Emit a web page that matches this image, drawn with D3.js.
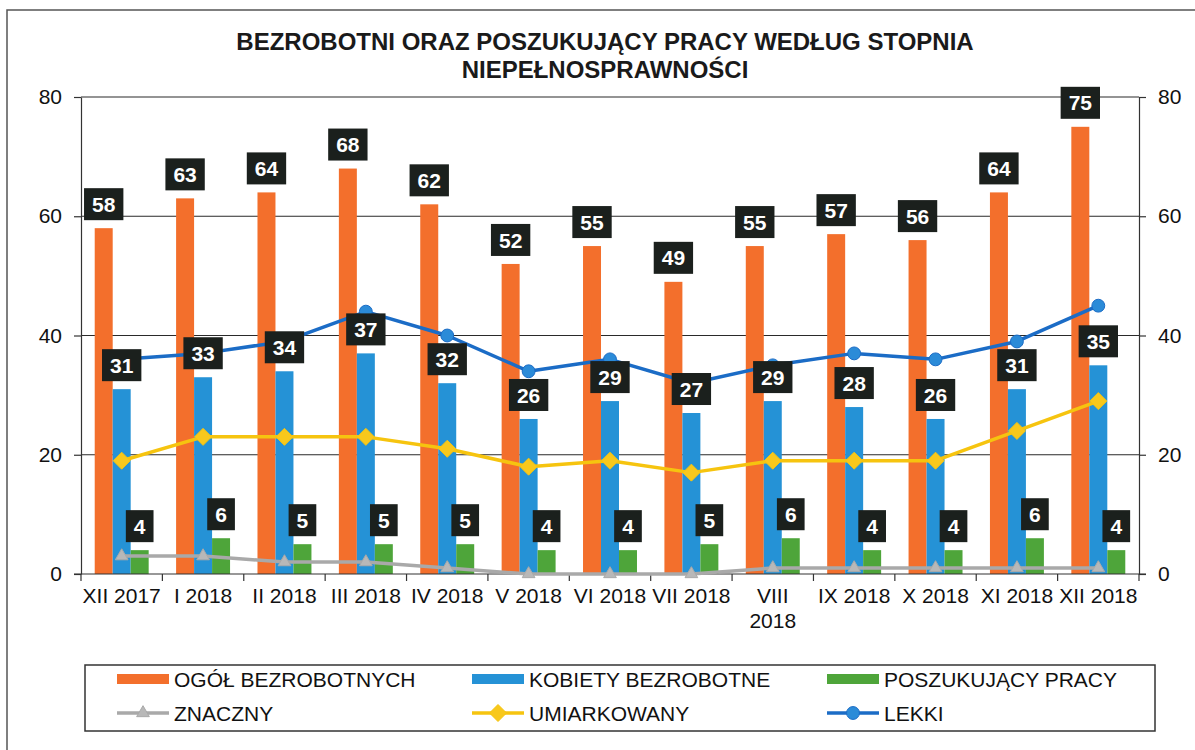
<!DOCTYPE html>
<html>
<head>
<meta charset="utf-8">
<script src="https://cdn.jsdelivr.net/npm/d3@7"></script>
<style>
  body { margin: 0; background: #fff; }
  text { font-family: "Liberation Sans", Arial, sans-serif; }
</style>
</head>
<body>
<svg id="chart"></svg>
<script>
// categories (months)
const months = ["XII 2017", "I 2018", "II 2018", "III 2018", "IV 2018", "V 2018", "VI 2018",
  "VII 2018", "VIII 2018", "IX 2018", "X 2018", "XI 2018", "XII 2018"];

// bar series
const ogolBezrobotnych = [58, 63, 64, 68, 62, 52, 55, 49, 55, 57, 56, 64, 75];
const kobietyBezrobotne = [31, 33, 34, 37, 32, 26, 29, 27, 29, 28, 26, 31, 35];
const poszukujacyPracy = [4, 6, 5, 5, 5, 4, 4, 5, 6, 4, 4, 6, 4];

// line series (secondary axis)
const znaczny = [3, 3, 2, 2, 1, 0, 0, 0, 1, 1, 1, 1, 1];
const umiarkowany = [19, 23, 23, 23, 21, 18, 19, 17, 19, 19, 19, 24, 29];
const lekki = [36, 37, 39, 44, 40, 34, 36, 32, 35, 37, 36, 39, 45];

const yTicks = [0, 20, 40, 60, 80];
const titleLines = ["BEZROBOTNI ORAZ POSZUKUJĄCY PRACY WEDŁUG STOPNIA", "NIEPEŁNOSPRAWNOŚCI"];

// chart dimensions
const width = 1195;
const height = 750;
const plotLeft = 81;
const plotRight = 1139;
const plotTop = 97;
const plotBottom = 574;

const barSeries = [
  { name: "OGÓŁ BEZROBOTNYCH", values: ogolBezrobotnych, color: "#f36f2c" },
  { name: "KOBIETY BEZROBOTNE", values: kobietyBezrobotne, color: "#2592d6" },
  { name: "POSZUKUJĄCY PRACY", values: poszukujacyPracy, color: "#4ea53a" }
];
const lineSeries = [
  { name: "ZNACZNY", values: znaczny, color: "#a9a9a9", fill: "#b8b8b8", marker: "triangle" },
  { name: "UMIARKOWANY", values: umiarkowany, color: "#f6c40f", fill: "#f8c81c", marker: "diamond" },
  { name: "LEKKI", values: lekki, color: "#1b6cc6", fill: "#2b8bd8", marker: "circle" }
];

const svg = d3.select("#chart")
  .attr("width", width)
  .attr("height", height);

// outer frame
svg.append("rect")
  .attr("x", 7).attr("y", 10)
  .attr("width", width + 20).attr("height", height + 20)
  .attr("fill", "none").attr("stroke", "#555").attr("stroke-width", 1.5);

// scales
const xCat = d3.scaleBand().domain(months).range([plotLeft, plotRight]).padding(0);
const x0 = d3.scaleBand().domain(months).range([plotLeft, plotRight])
  .paddingInner(0.337).paddingOuter(0.1685);
const x1 = d3.scaleBand().domain(barSeries.map(d => d.name)).range([0, x0.bandwidth()]);
const y = d3.scaleLinear().domain([0, 80]).range([plotBottom, plotTop]);
const y2 = d3.scaleLinear().domain([0, 80]).range([plotBottom, plotTop]);

// title
svg.append("g").selectAll("text")
  .data(titleLines)
  .join("text")
  .attr("x", 605)
  .attr("y", (d, i) => 50 + i * 28)
  .attr("text-anchor", "middle")
  .attr("font-size", 24)
  .attr("font-weight", "bold")
  .attr("fill", "#1a1a1a")
  .text(d => d);

// gridlines
svg.append("g")
  .selectAll("line")
  .data(yTicks.filter(t => t > 0))
  .join("line")
  .attr("x1", plotLeft).attr("x2", plotRight)
  .attr("y1", d => y(d)).attr("y2", d => y(d))
  .attr("stroke", "#2a2a2a").attr("stroke-width", 1.2);

// left axis
const leftAxis = svg.append("g")
  .attr("transform", `translate(${plotLeft},0)`)
  .call(d3.axisLeft(y).tickValues(yTicks).tickSize(7).tickSizeOuter(0).tickPadding(12));

// right axis
const rightAxis = svg.append("g")
  .attr("transform", `translate(${plotRight},0)`)
  .call(d3.axisRight(y2).tickValues(yTicks).tickSize(7).tickSizeOuter(0).tickPadding(12));

[leftAxis, rightAxis].forEach(a => {
  a.selectAll("path, line").attr("stroke", "#333").attr("stroke-width", 1.2);
  a.selectAll("text").attr("font-size", 21).attr("fill", "#111")
    .style("font-family", "'Liberation Sans', Arial, sans-serif");
});

// bars
const groups = svg.append("g")
  .selectAll("g")
  .data(months)
  .join("g")
  .attr("transform", d => `translate(${x0(d)},0)`);

groups.selectAll("rect")
  .data((m, i) => barSeries.map(s => ({ name: s.name, color: s.color, value: s.values[i] })))
  .join("rect")
  .attr("x", d => x1(d.name))
  .attr("y", d => y(d.value))
  .attr("width", x1.bandwidth())
  .attr("height", d => y(0) - y(d.value))
  .attr("fill", d => d.color);

// bottom axis line and ticks between categories
svg.append("line")
  .attr("x1", plotLeft - 7).attr("x2", plotRight + 7)
  .attr("y1", y(0)).attr("y2", y(0))
  .attr("stroke", "#333").attr("stroke-width", 1.2);

svg.append("g")
  .selectAll("line")
  .data(months.map(m => xCat(m)).concat([plotRight]))
  .join("line")
  .attr("x1", d => d).attr("x2", d => d)
  .attr("y1", y(0)).attr("y2", y(0) + 7)
  .attr("stroke", "#333").attr("stroke-width", 1.2);

// category labels (wrapped if wider than the category)
const catLabels = svg.append("g")
  .selectAll("text")
  .data(months)
  .join("text")
  .attr("x", d => xCat(d) + xCat.bandwidth() / 2)
  .attr("y", y(0) + 29)
  .attr("text-anchor", "middle")
  .attr("font-size", 21)
  .attr("fill", "#111")
  .text(d => d);

catLabels.each(function(d) {
  const t = d3.select(this);
  if (this.getComputedTextLength() > xCat.bandwidth()) {
    const words = d.split(" ");
    t.text(null);
    words.forEach((w, i) => {
      t.append("tspan")
        .attr("x", xCat(d) + xCat.bandwidth() / 2)
        .attr("dy", i === 0 ? 0 : 25)
        .text(w);
    });
  }
});

// lines
const markerPath = {
  triangle: d3.symbol(d3.symbolTriangle, 70)(),
  circle: d3.symbol(d3.symbolCircle, 130)(),
  diamond: "M0,-8.5L8.5,0L0,8.5L-8.5,0Z"
};

const lineGen = d3.line()
  .x(d => x0(d.month) + x0.bandwidth() / 2)
  .y(d => y2(d.value));

lineSeries.forEach(s => {
  const pts = months.map((m, i) => ({ month: m, value: s.values[i] }));
  svg.append("path")
    .datum(pts)
    .attr("d", lineGen)
    .attr("fill", "none")
    .attr("stroke", s.color)
    .attr("stroke-width", 3.5)
    .attr("stroke-linejoin", "round");
  svg.append("g")
    .selectAll("path")
    .data(pts)
    .join("path")
    .attr("d", markerPath[s.marker])
    .attr("transform", d => `translate(${x0(d.month) + x0.bandwidth() / 2},${y2(d.value)})`)
    .attr("fill", s.fill)
    .attr("stroke", s.color)
    .attr("stroke-width", 1);
});

// data labels for bars
const labelGroups = svg.append("g")
  .selectAll("g")
  .data(months)
  .join("g")
  .attr("transform", d => `translate(${x0(d)},0)`);

const labels = labelGroups.selectAll("g")
  .data((m, i) => barSeries.map(s => ({ name: s.name, value: s.values[i] })))
  .join("g")
  .attr("transform", d => `translate(${x1(d.name) + x1.bandwidth() / 2},${y(d.value) - 24})`);

labels.append("rect")
  .attr("fill", "#1b201d");

labels.append("text")
  .attr("text-anchor", "middle")
  .attr("font-size", 21)
  .attr("font-weight", "bold")
  .attr("fill", "#fff")
  .attr("dy", "0.36em")
  .text(d => d.value);

labels.each(function() {
  const g = d3.select(this);
  const w = g.select("text").node().getComputedTextLength() + 16;
  g.select("rect")
    .attr("x", -w / 2).attr("y", -16)
    .attr("width", w).attr("height", 32);
});

// legend
svg.append("rect")
  .attr("x", 85).attr("y", 665)
  .attr("width", 1070).attr("height", 66)
  .attr("fill", "#fff").attr("stroke", "#333").attr("stroke-width", 1.5);

const legendCols = [117, 472, 827];
const legendRows = [679, 713];

const legendItems = barSeries.map((s, i) => ({ ...s, type: "bar", col: i, row: 0 }))
  .concat(lineSeries.map((s, i) => ({ ...s, type: "line", col: i, row: 1 })));

const legend = svg.append("g")
  .selectAll("g")
  .data(legendItems)
  .join("g")
  .attr("transform", d => `translate(${legendCols[d.col]},${legendRows[d.row]})`);

legend.filter(d => d.type === "bar").append("rect")
  .attr("x", 0).attr("y", -5)
  .attr("width", 52).attr("height", 10)
  .attr("fill", d => d.color);

legend.filter(d => d.type === "line").append("line")
  .attr("x1", 0).attr("x2", 52)
  .attr("stroke", d => d.color).attr("stroke-width", 3.5);

legend.filter(d => d.type === "line").append("path")
  .attr("d", d => markerPath[d.marker])
  .attr("transform", "translate(26,0)")
  .attr("fill", d => d.fill)
  .attr("stroke", d => d.color);

legend.append("text")
  .attr("x", 57)
  .attr("y", 8)
  .attr("font-size", 21)
  .attr("fill", "#111")
  .text(d => d.name);
</script>
</body>
</html>
